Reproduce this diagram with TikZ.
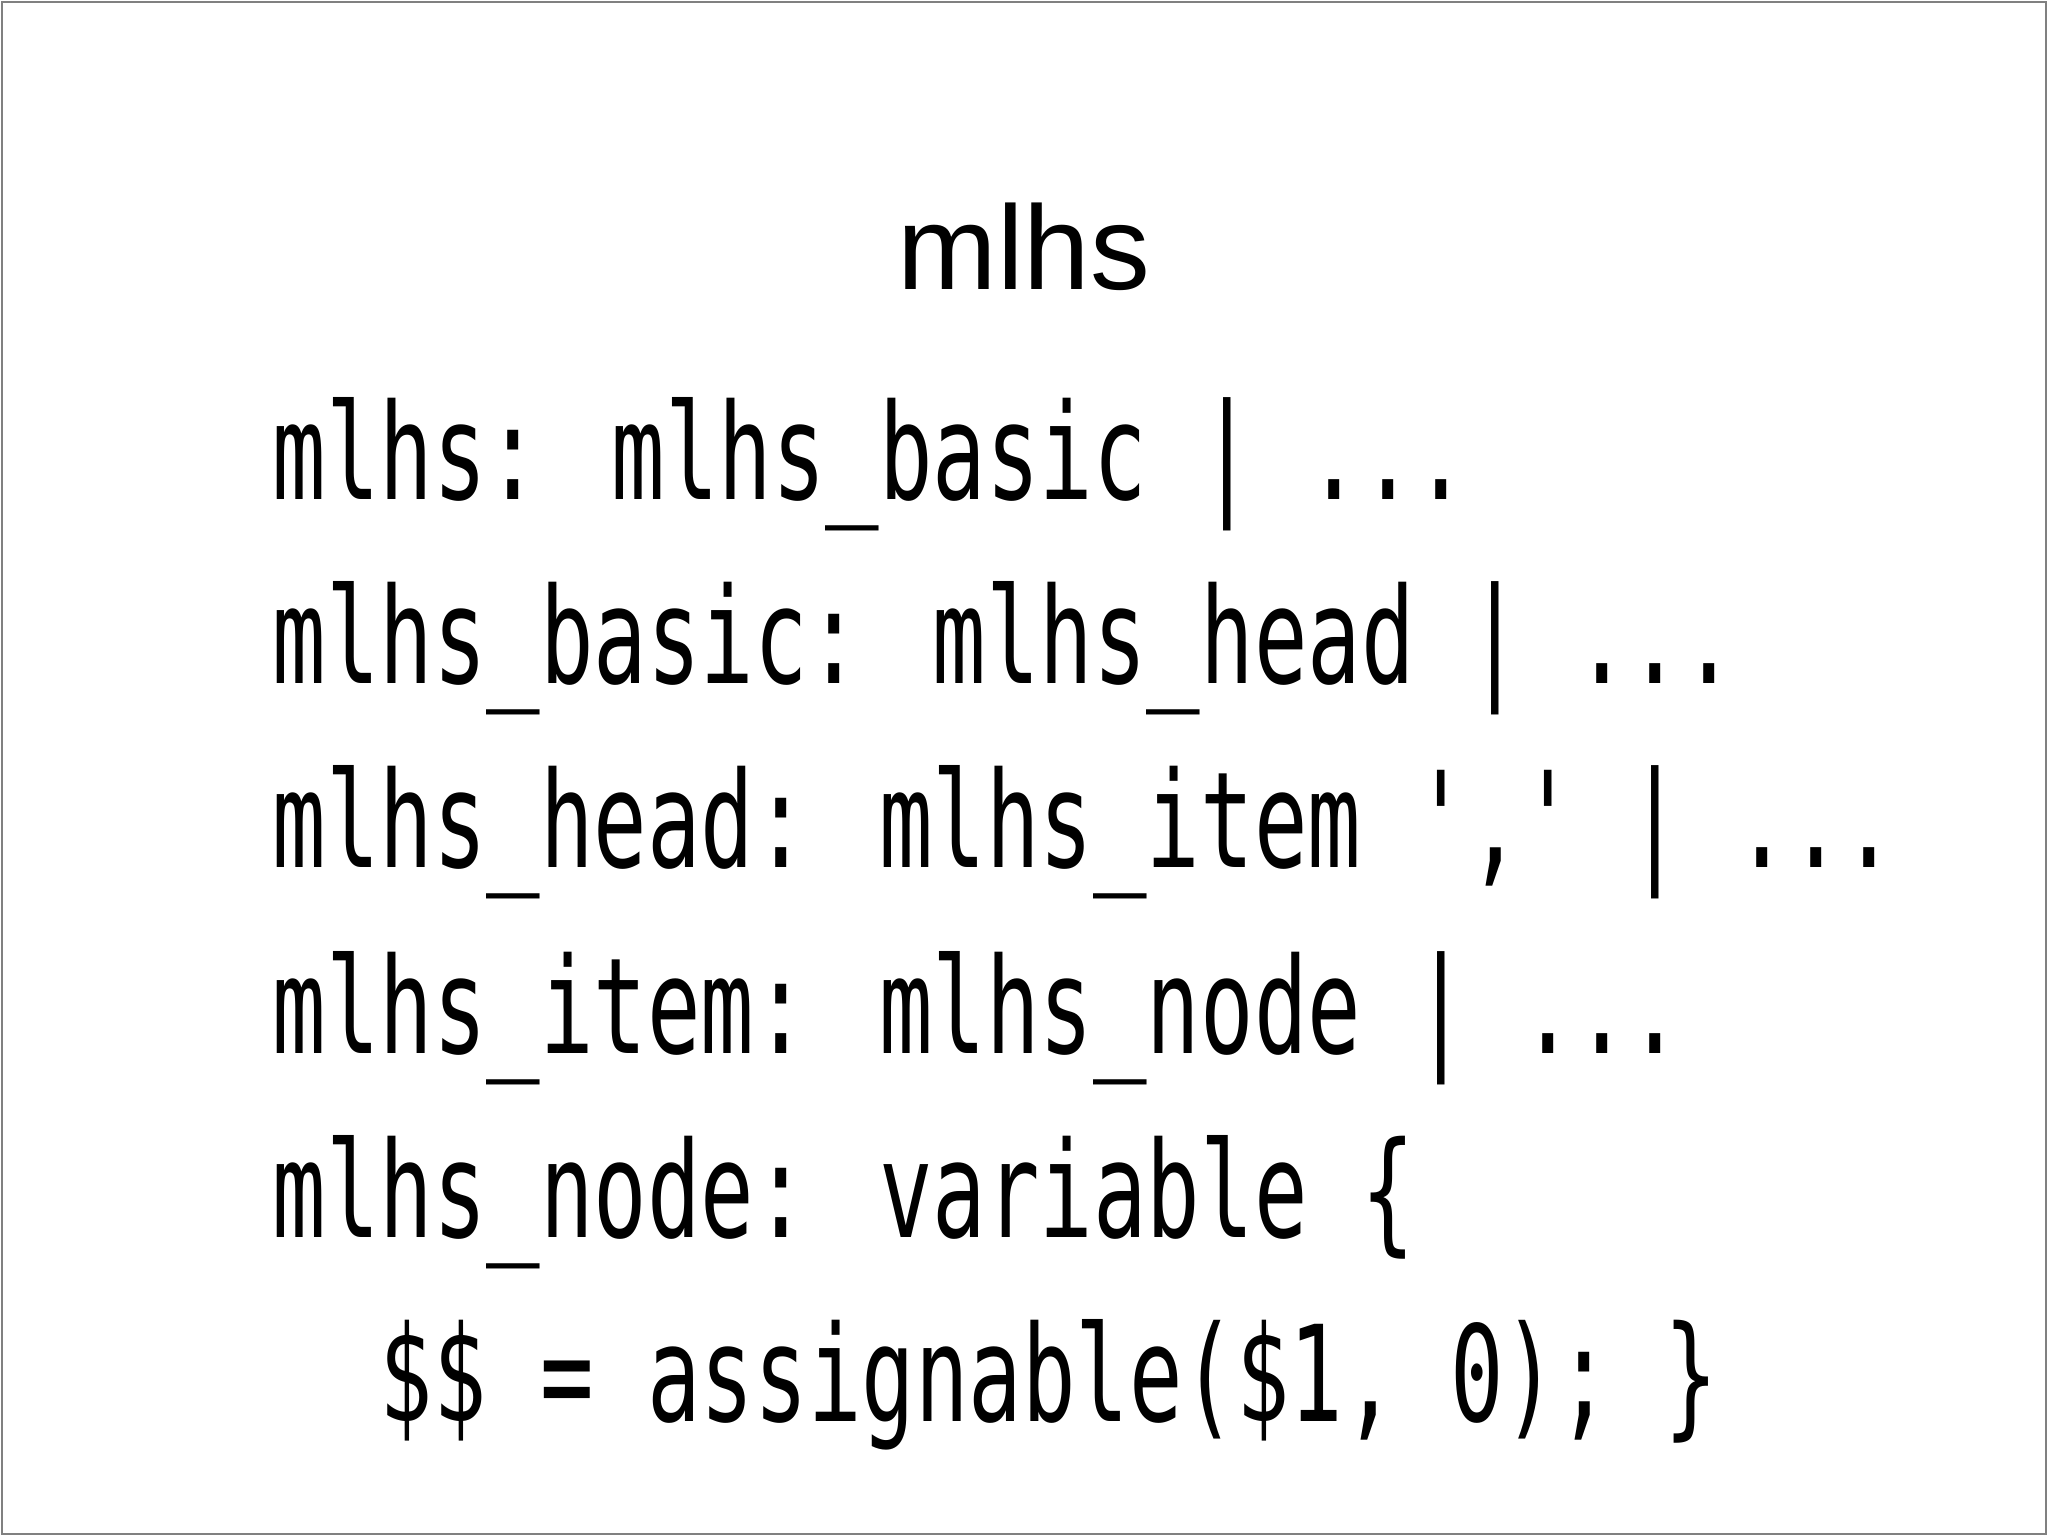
\documentclass[tikz,border=0pt]{standalone}
\usepackage{fontspec}
\setmainfont{Liberation Sans}
\newfontfamily\codefont{DejaVu Sans Mono}
\begin{document}
\begin{tikzpicture}[x=1cm,y=1cm,
  code/.style={anchor=base west,inner sep=0pt,font=\codefont\fontsize{25.3pt}{30pt}\selectfont,yscale=1.5,transform shape}]
\useasboundingbox (0,0) rectangle (20.48,-15.36);
\draw[gray,line width=0.8pt] (0.02,-0.02) rectangle (20.46,-15.34);
\node[anchor=base,inner sep=0pt,font=\fontsize{34pt}{40pt}\selectfont] (title) at (10.24,-2.90) {mlhs};
\node[code] (l1) at (2.72,-5.00) {mlhs: mlhs\_basic | ...};
\node[code] (l2) at (2.72,-6.84) {mlhs\_basic: mlhs\_head | ...};
\node[code] (l3) at (2.72,-8.68) {mlhs\_head: mlhs\_item ',' | ...};
\node[code] (l4) at (2.72,-10.53) {mlhs\_item: mlhs\_node | ...};
\node[code] (l5) at (2.72,-12.37) {mlhs\_node: variable \{};
\node[code] (l6) at (2.72,-14.21) {\ \ \$\$ = assignable(\$1, 0); \}};
\end{tikzpicture}
\end{document}
